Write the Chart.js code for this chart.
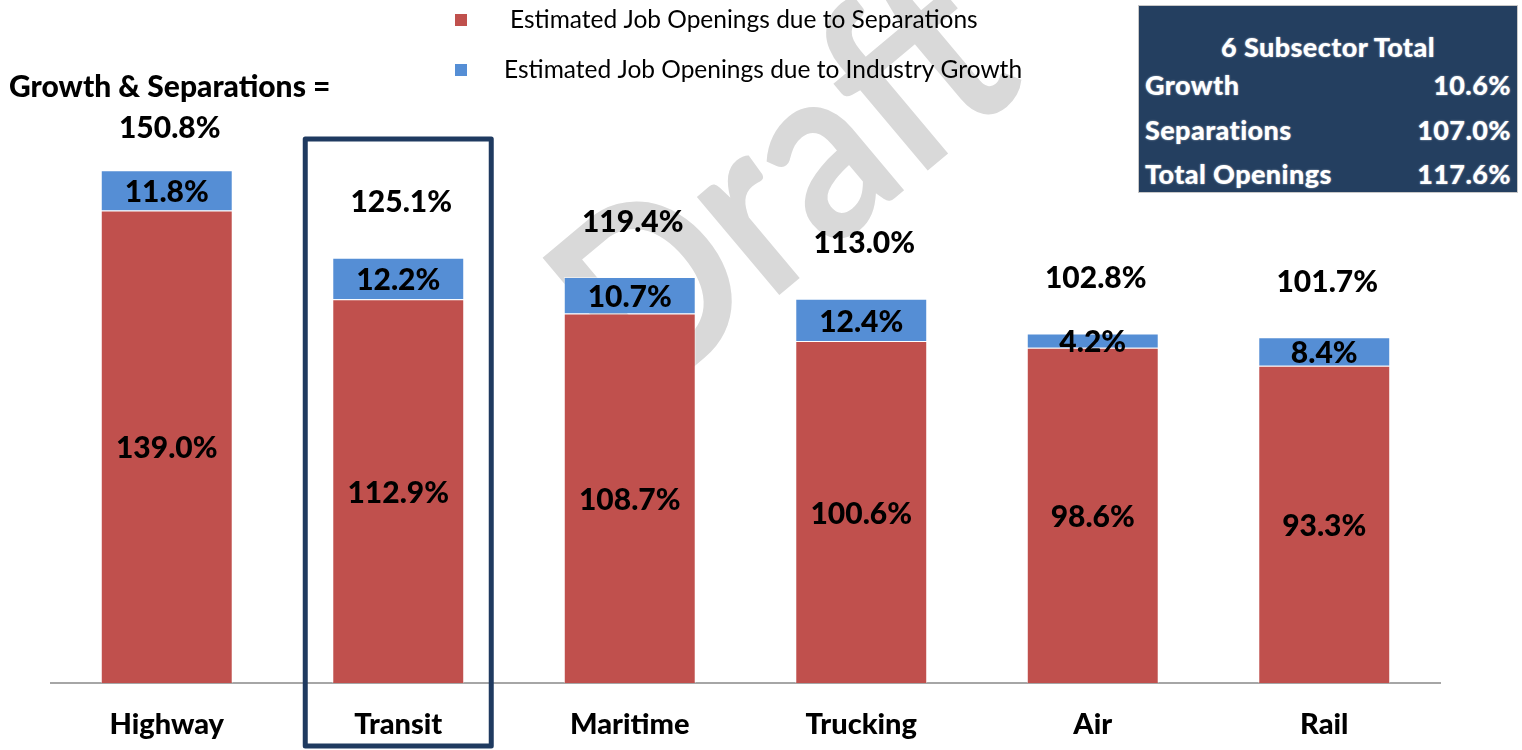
<!DOCTYPE html>
<html>
<head>
<meta charset="utf-8">
<title>Job Openings by Subsector</title>
<script src="https://cdn.jsdelivr.net/npm/chart.js@4.4.1/dist/chart.umd.min.js"></script>
<style>
  html, body { margin: 0; padding: 0; background: #fff; }
  #wrap { position: relative; width: 1522px; height: 750px; overflow: hidden; }
  #summary {
    position: absolute; left: 1138px; top: 5px; width: 380px; height: 188px;
    background: #243F60; border: 1px solid #c8c8c8; box-sizing: border-box;
    color: #fff; font-family: Lato, "Open Sans", sans-serif; font-weight: 900; font-size: 27px;
    letter-spacing: 0.4px; line-height: 1;
    text-shadow: 0 0 2px rgba(255,255,255,0.6);
  }
  #summary .title { position: absolute; left: 0; right: 0; top: 27px; text-align: center; }
  #summary .row { position: absolute; left: 6px; right: 6px; display: flex; justify-content: space-between; }
</style>
</head>
<body>
<div id="wrap">
  <canvas id="chart" width="1522" height="750"></canvas>
  <div id="summary"></div>
</div>
<script>
// =======================
// Data
// =======================

const categories = ["Highway", "Transit", "Maritime", "Trucking", "Air", "Rail"];
const separations = [139.0, 112.9, 108.7, 100.6, 98.6, 93.3];
const growth = [11.8, 12.2, 10.7, 12.4, 4.2, 8.4];
const totals = [150.8, 125.1, 119.4, 113.0, 102.8, 101.7];
const totalPrefix = ["Growth & Separations =", "", "", "", "", ""];
const seriesNames = [
  "Estimated Job Openings due to Separations",
  "Estimated Job Openings due to Industry Growth"
];
const highlighted = "Transit";
const watermark = "Draft";

const summaryTitle = "6 Subsector Total";
const summaryLabels = ["Growth", "Separations", "Total Openings"];
const summaryValues = ["10.6%", "107.0%", "117.6%"];

const RED = "#C0504D";
const BLUE = "#558ED5";
const NAVY = "#1F3A60";
const FONT = "Lato, 'Open Sans', sans-serif";

function pct(v) {
  return v.toFixed(1) + "%";
}


// =======================
// Summary box (top right)
// =======================

function buildSummary() {
  const box = document.getElementById("summary");
  const t = document.createElement("div");
  t.className = "title";
  t.textContent = summaryTitle;
  box.appendChild(t);

  const rowTops = [65, 110, 154];
  summaryLabels.forEach((lab, i) => {
    const r = document.createElement("div");
    r.className = "row";
    r.style.top = rowTops[i] + "px";
    const a = document.createElement("span");
    a.textContent = lab;
    const b = document.createElement("span");
    b.textContent = summaryValues[i];
    r.appendChild(a);
    r.appendChild(b);
    box.appendChild(r);
  });
}


// =======================
// Plugins
// =======================

const watermarkPlugin = {
  id: "watermark",
  beforeDraw(chart) {
    const ctx = chart.ctx;
    ctx.save();
    ctx.translate(785, 185);
    ctx.rotate(-40 * Math.PI / 180);
    ctx.scale(0.86, 1); // narrower face, closer to the original
    ctx.font = "bold 250px " + FONT;
    ctx.fillStyle = "#D9D9D9";
    ctx.textAlign = "center";
    ctx.textBaseline = "middle";
    ctx.fillText(watermark, 0, 0);
    ctx.restore();
  }
};

const labelsPlugin = {
  id: "barLabels",
  afterDatasetsDraw(chart) {
    const ctx = chart.ctx;
    ctx.save();
    ctx.font = "900 30px " + FONT;
    ctx.fillStyle = "#000";
    ctx.textAlign = "center";
    ctx.textBaseline = "middle";

    chart.data.datasets.forEach((ds, di) => {
      const meta = chart.getDatasetMeta(di);
      meta.data.forEach((bar, i) => {
        ctx.fillText(pct(ds.data[i]), bar.x, (bar.y + bar.base) / 2 + 2);
      });
    });

    // totals above each stack (two-line label sits a bit lower)
    const topMeta = chart.getDatasetMeta(chart.data.datasets.length - 1);
    topMeta.data.forEach((bar, i) => {
      const y = bar.y - (totalPrefix[i] ? 42 : 55);
      ctx.fillText(pct(totals[i]), bar.x + 3, y);
      if (totalPrefix[i]) ctx.fillText(totalPrefix[i], bar.x + 3, y - 41);
    });
    ctx.restore();
  }
};

const legendPlugin = {
  id: "customLegend",
  afterDraw(chart) {
    const ctx = chart.ctx;
    ctx.save();
    ctx.font = "24.5px " + FONT;
    ctx.textBaseline = "middle";
    ctx.textAlign = "left";
    seriesNames.forEach((name, i) => {
      const y = 20 + i * 50;
      ctx.fillStyle = i === 0 ? RED : BLUE;
      ctx.fillRect(455, y - 6, 12, 12);
      ctx.fillStyle = "#000";
      ctx.fillText(name, i === 0 ? 510 : 504, y);
    });
    ctx.restore();
  }
};

const highlightPlugin = {
  id: "highlightBox",
  afterDraw(chart) {
    const idx = categories.indexOf(highlighted);
    if (idx < 0) return;
    const x = chart.scales.x.getPixelForValue(idx);
    const top = chart.scales.y.getPixelForValue(160);
    const ctx = chart.ctx;
    ctx.save();
    ctx.strokeStyle = NAVY;
    ctx.lineWidth = 5;
    ctx.lineJoin = "round";
    ctx.strokeRect(x - 93, top, 186, chart.height - 4 - top);
    ctx.restore();
  }
};


// =======================
// Chart
// =======================

function initChart() {
  const ctx = document.getElementById("chart").getContext("2d");
  new Chart(ctx, {
    type: "bar",
    data: {
      labels: categories,
      datasets: [
        { label: seriesNames[0], data: separations, backgroundColor: RED, borderColor: "rgba(255,255,255,0.5)", borderWidth: 1 },
        { label: seriesNames[1], data: growth, backgroundColor: BLUE, borderColor: "rgba(255,255,255,0.5)", borderWidth: 1 }
      ]
    },
    options: {
      responsive: false,
      animation: false,
      layout: { padding: { top: 3, left: 51, right: 82, bottom: 10 } },
      datasets: { bar: { barPercentage: 0.57, categoryPercentage: 1.0 } },
      plugins: {
        legend: { display: false },
        tooltip: { enabled: false },
        title: { display: false }
      },
      scales: {
        x: {
          stacked: true,
          grid: { display: false, drawTicks: false },
          border: { display: true, color: "#A6A6A6", width: 2 },
          ticks: { color: "#000", font: { family: FONT, size: 29, weight: "900" }, padding: 24 },
          afterFit(scale) { scale.height = 57; }
        },
        y: {
          stacked: true,
          display: false,
          min: 0,
          max: 200
        }
      }
    },
    plugins: [watermarkPlugin, labelsPlugin, legendPlugin, highlightPlugin]
  });
}

document.addEventListener("DOMContentLoaded", () => {
  buildSummary();
  initChart();
});
</script>
</body>
</html>
